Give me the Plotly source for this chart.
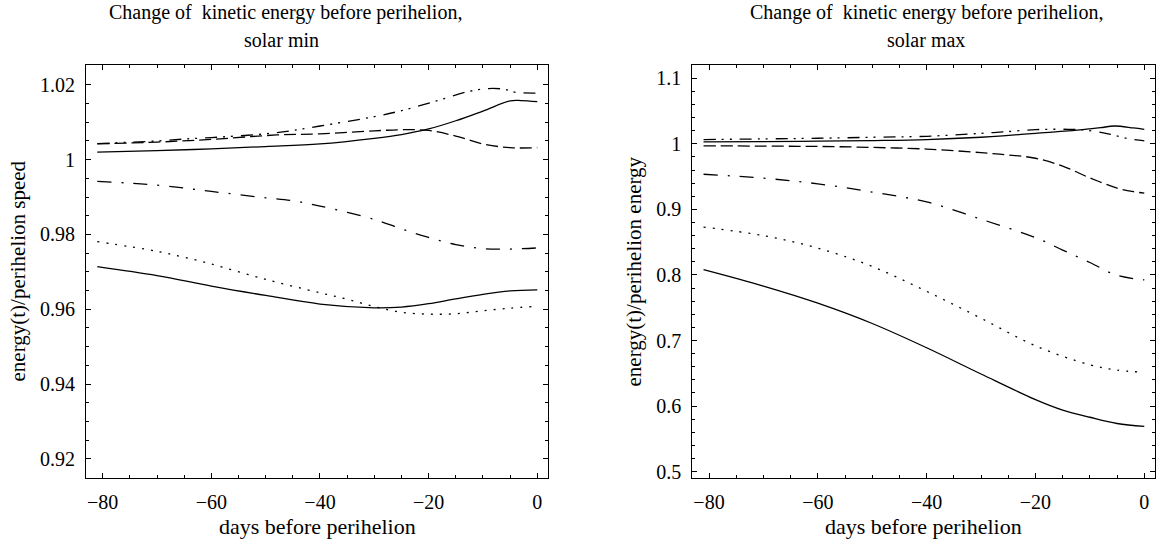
import plotly.graph_objects as go

# ---- solar minimum: ratio vs days before perihelion ----
min_solid_hi_x = [-81, -70, -60, -50, -40, -30, -25, -20, -15, -10, -5, -3, 0]
min_solid_hi_y = [1.0020, 1.0024, 1.0029, 1.0035, 1.0042, 1.0057, 1.0067, 1.0082, 1.0104, 1.0130, 1.0157, 1.0158, 1.0155]

min_ddot_x = [-81, -70, -64, -60, -48, -40, -30, -25, -19, -13, -9, -6, -4, 0]
min_ddot_y = [1.0043, 1.0050, 1.0056, 1.0059, 1.0072, 1.0090, 1.0115, 1.0131, 1.0155, 1.0181, 1.0190, 1.0188, 1.0180, 1.0178]

min_dash_x = [-81, -70, -64, -60, -48, -40, -30, -25, -20, -15, -10, -5, 0]
min_dash_y = [1.0042, 1.0047, 1.0051, 1.0054, 1.0066, 1.0069, 1.0077, 1.0080, 1.0078, 1.0063, 1.0042, 1.0032, 1.0032]

min_dashdot_x = [-81, -70, -60, -50, -45, -40, -30, -25, -20, -15, -10, -5, 0]
min_dashdot_y = [0.9942, 0.9932, 0.9915, 0.9898, 0.9890, 0.9876, 0.9840, 0.9815, 0.9792, 0.9773, 0.9762, 0.9761, 0.9764]

min_dot_x = [-81, -70, -65, -60, -50, -40, -35, -30, -25, -20, -15, -10, -5, -1]
min_dot_y = [0.9781, 0.9755, 0.9739, 0.9721, 0.9680, 0.9644, 0.9627, 0.9607, 0.9592, 0.9587, 0.9588, 0.9596, 0.9603, 0.9607]

min_solid_lo_x = [-81, -70, -60, -50, -40, -30, -25, -20, -15, -10, -5, 0]
min_solid_lo_y = [0.9714, 0.9690, 0.9662, 0.9637, 0.9614, 0.9604, 0.9606, 0.9615, 0.9628, 0.9640, 0.9649, 0.9652]

# ---- solar maximum: ratio vs days before perihelion ----
max_solid_hi_x = [-81, -70, -60, -50, -40, -30, -26, -20, -14, -10, -8, -5.5, -2, 0]
max_solid_hi_y = [1.0030, 1.0035, 1.0040, 1.0050, 1.0065, 1.0100, 1.0121, 1.0160, 1.0196, 1.0228, 1.0246, 1.0272, 1.0242, 1.0221]

max_ddot_x = [-81, -70, -60, -50, -40, -30, -26, -20, -14, -11, -7.5, -5.5, -3, -1, 0]
max_ddot_y = [1.0065, 1.0075, 1.0085, 1.0100, 1.0115, 1.0160, 1.0181, 1.0216, 1.0221, 1.0211, 1.0166, 1.0130, 1.0080, 1.0055, 1.0045]

max_dash_x = [-81, -70, -60, -50, -40, -30, -25, -20, -15, -10, -5, -2, 0]
max_dash_y = [0.9970, 0.9965, 0.9960, 0.9945, 0.9920, 0.9865, 0.9830, 0.9780, 0.9660, 0.9480, 0.9325, 0.9270, 0.9249]

max_dashdot_x = [-81, -70, -60, -50, -40, -30, -20, -15, -10, -5, 0]
max_dashdot_y = [0.9536, 0.9476, 0.9390, 0.9264, 0.9113, 0.8850, 0.8570, 0.8380, 0.8190, 0.7995, 0.7925]

max_dot_x = [-81, -70, -60, -50, -40, -30, -20, -10, -5, -1]
max_dot_y = [0.8731, 0.8600, 0.8410, 0.8130, 0.7750, 0.7340, 0.6920, 0.6630, 0.6550, 0.6520]

max_solid_lo_x = [-81, -70, -60, -50, -40, -30, -20, -15, -10, -5, 0]
max_solid_lo_y = [0.8080, 0.7830, 0.7570, 0.7260, 0.6890, 0.6490, 0.6100, 0.5940, 0.5830, 0.5735, 0.5690]

SOLID = "solid"
DASH = "12px,5px"
DASHDOT = "14px,10px,2px,10px"
DDOT = "12px,6px,2px,6px,2px,8px"
DOT = "2px,7px"

FONT = "Liberation Serif"

left_series = [
    (min_solid_hi_x, min_solid_hi_y, SOLID),
    (min_ddot_x, min_ddot_y, DDOT),
    (min_dash_x, min_dash_y, DASH),
    (min_dashdot_x, min_dashdot_y, DASHDOT),
    (min_dot_x, min_dot_y, DOT),
    (min_solid_lo_x, min_solid_lo_y, SOLID),
]
right_series = [
    (max_solid_hi_x, max_solid_hi_y, SOLID),
    (max_ddot_x, max_ddot_y, DDOT),
    (max_dash_x, max_dash_y, DASH),
    (max_dashdot_x, max_dashdot_y, DASHDOT),
    (max_dot_x, max_dot_y, DOT),
    (max_solid_lo_x, max_solid_lo_y, SOLID),
]

fig = go.Figure()
for xs, ys, dash in left_series:
    fig.add_trace(go.Scatter(x=xs, y=ys, mode="lines", xaxis="x", yaxis="y",
                             line=dict(color="black", width=1.3, dash=dash, shape="spline", smoothing=1.0),
                             showlegend=False, hoverinfo="skip"))
for xs, ys, dash in right_series:
    fig.add_trace(go.Scatter(x=xs, y=ys, mode="lines", xaxis="x2", yaxis="y2",
                             line=dict(color="black", width=1.3, dash=dash, shape="spline", smoothing=1.0),
                             showlegend=False, hoverinfo="skip"))

W, H = 1159, 546
plot_top, plot_bot = 66, 482
yd = [1 - plot_bot / H, 1 - plot_top / H]

axis_common = dict(
    showline=True, mirror="allticks", linecolor="black", linewidth=1,
    ticks="inside", ticklen=5, tickwidth=1, tickcolor="black",
    showgrid=False, zeroline=False,
    tickfont=dict(family=FONT, size=20, color="black"),
    ticklabelstandoff=6,
)

xticks = dict(tickvals=[-80, -60, -40, -20, 0], ticktext=["\u221280", "\u221260", "\u221240", "\u221220", "0"],
              minor=dict(dtick=5, tick0=0, ticks="inside", ticklen=3, tickcolor="black", tickwidth=1, showgrid=False))

fig.update_layout(
    width=W, height=H, margin=dict(l=0, r=0, t=0, b=0),
    paper_bgcolor="white", plot_bgcolor="white",
    xaxis=dict(domain=[86 / W, 548 / W], range=[-83.07, 1.97], anchor="y", **xticks, **axis_common),
    yaxis=dict(domain=yd, range=[0.9150, 1.0252], anchor="x",
               tickvals=[0.92, 0.94, 0.96, 0.98, 1.0, 1.02], ticktext=["0.92", "0.94", "0.96", "0.98", "1", "1.02"],
               minor=dict(dtick=0.005, tick0=0.92, ticks="inside", ticklen=3, tickcolor="black", tickwidth=1, showgrid=False),
               **axis_common),
    xaxis2=dict(domain=[692.3 / W, 1155 / W], range=[-83.07, 1.97], anchor="y2", **xticks, **axis_common),
    yaxis2=dict(domain=yd, range=[0.491, 1.1196], anchor="x2",
                tickvals=[0.5, 0.6, 0.7, 0.8, 0.9, 1.0, 1.1], ticktext=["0.5", "0.6", "0.7", "0.8", "0.9", "1", "1.1"],
                minor=dict(dtick=0.02, tick0=0.5, ticks="inside", ticklen=3, tickcolor="black", tickwidth=1, showgrid=False),
                **axis_common),
)

def label(text, x, y, size=20, angle=0):
    fig.add_annotation(text=text, x=x / W, y=1 - y / H, xref="paper", yref="paper",
                       showarrow=False, xanchor="center", yanchor="middle", textangle=angle,
                       font=dict(family=FONT, size=size, color="black"))

label("Change of  kinetic energy before perihelion,", 285, 13)
label("solar min", 281, 40)
label("Change of  kinetic energy before perihelion,", 926, 13)
label("solar max", 926, 40)
label("days before perihelion", 317, 531, size=22)
label("days before perihelion", 923, 531, size=22)
label("energy(t)/perihelion speed", 18, 274, size=21, angle=-90)
label("energy(t)/perihelion energy", 634, 274, size=21, angle=-90)

fig.write_html("out.html")
